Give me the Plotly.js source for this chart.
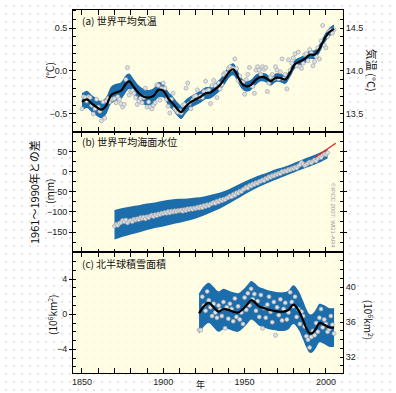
<!DOCTYPE html>
<html><head><meta charset="utf-8">
<script src="https://cdn.plot.ly/plotly-3.0.1.min.js"></script>
<style>
html,body{margin:0;padding:0;}
body{width:396px;height:393px;background-color:#fff;background-image:radial-gradient(circle,#cfcfcf 0.55px,rgba(255,255,255,0) 0.9px);background-size:8px 8px;background-position:2px 2px;}
#chart{width:396px;height:393px;}
</style></head><body>
<div id="chart"></div>
<script>
// ---------- (a) global mean temperature (anomaly vs 1961-1990, °C) ----------
const tempYears = [];
for (let y = 1850; y <= 2005; y++) tempYears.push(y);
const tempAnnual = [-0.44,-0.30,-0.31,-0.35,-0.30,-0.31,-0.40,-0.50,-0.44,-0.33,
 -0.42,-0.47,-0.58,-0.36,-0.55,-0.35,-0.32,-0.36,-0.33,-0.33,
 -0.32,-0.37,-0.30,-0.33,-0.38,-0.42,-0.39,-0.10,0.04,-0.28,
 -0.24,-0.23,-0.26,-0.31,-0.39,-0.35,-0.32,-0.37,-0.31,-0.20,
 -0.42,-0.36,-0.42,-0.44,-0.40,-0.37,-0.16,-0.17,-0.34,-0.20,
 -0.14,-0.20,-0.33,-0.41,-0.49,-0.33,-0.26,-0.44,-0.46,-0.48,
 -0.46,-0.49,-0.40,-0.39,-0.20,-0.14,-0.38,-0.44,-0.34,-0.30,
 -0.29,-0.22,-0.31,-0.29,-0.31,-0.24,-0.12,-0.23,-0.22,-0.38,
 -0.17,-0.11,-0.17,-0.31,-0.14,-0.21,-0.16,-0.04,-0.02,-0.03,
 0.03,0.05,0.02,0.03,0.14,0.03,-0.11,-0.06,-0.13,-0.13,
 -0.27,-0.10,-0.04,0.04,-0.17,-0.18,-0.26,0.01,0.05,0.01,
 -0.04,0.05,0.02,0.04,-0.24,-0.14,-0.07,-0.04,-0.09,0.05,
 0.01,-0.09,-0.01,0.14,-0.09,-0.04,-0.21,0.13,0.01,0.09,
 0.15,0.20,0.06,0.22,0.05,0.03,0.09,0.19,0.20,0.12,
 0.25,0.21,0.06,0.11,0.17,0.27,0.14,0.35,0.53,0.30,
 0.27,0.40,0.46,0.47,0.44,0.48];
const tempSmoothYears = [1850,1853,1856,1859,1862,1865,1868,1871,1874,1877,
 1879,1882,1885,1888,1891,1894,1897,1900,1903,1906,
 1909,1911,1914,1917,1920,1923,1926,1929,1932,1935,
 1938,1941,1943,1945,1948,1951,1954,1957,1960,1963,
 1966,1969,1972,1975,1978,1981,1984,1987,1990,1993,
 1996,1999,2002,2005];
const tempSmooth = [-0.36,-0.33,-0.38,-0.42,-0.45,-0.40,-0.28,-0.25,-0.23,-0.15,
 -0.12,-0.19,-0.26,-0.30,-0.31,-0.29,-0.22,-0.23,-0.32,-0.38,
 -0.45,-0.48,-0.41,-0.36,-0.33,-0.30,-0.26,-0.25,-0.21,-0.16,
 -0.08,0.00,0.02,-0.03,-0.14,-0.18,-0.16,-0.10,-0.07,-0.08,
 -0.12,-0.08,-0.08,-0.10,-0.02,0.08,0.11,0.14,0.19,0.19,
 0.26,0.37,0.45,0.49];
const tempBandHalf = [0.10,0.10,0.10,0.10,0.10,0.10,0.10,0.10,0.10,0.10,
 0.09,0.09,0.09,0.09,0.09,0.09,0.09,0.08,0.08,0.08,
 0.08,0.08,0.08,0.07,0.07,0.07,0.07,0.07,0.07,0.07,
 0.07,0.07,0.07,0.07,0.06,0.06,0.06,0.06,0.05,0.05,
 0.05,0.05,0.05,0.05,0.05,0.05,0.05,0.05,0.05,0.05,
 0.05,0.05,0.05,0.05];

// ---------- (b) global mean sea level (mm vs 1961-1990) ----------
const seaYears = [];
for (let y = 1870; y <= 2001; y++) seaYears.push(y);
const seaAnnual = [-135,-131,-133,-128,-126,-121,-124,-120,-127,-123,
 -121,-124,-118,-120,-117,-119,-114,-116,-113,-117,
 -112,-114,-110,-108,-111,-107,-109,-105,-106,-103,
 -104,-101,-103,-99,-102,-98,-100,-97,-99,-96,
 -97,-95,-98,-94,-96,-92,-94,-91,-93,-90,
 -91,-88,-90,-86,-89,-84,-86,-82,-84,-80,
 -79,-76,-78,-73,-75,-70,-72,-68,-69,-65,
 -64,-60,-62,-56,-58,-52,-53,-48,-49,-44,
 -42,-38,-40,-34,-35,-30,-31,-27,-28,-24,
 -23,-20,-21,-16,-17,-12,-13,-9,-10,-6,
 -6,-3,-4,1,0,3,2,6,5,9,
 8,12,10,15,18,24,20,16,19,22,
 25,23,27,30,28,34,38,36,42,45,
 44,48];
const seaSmoothYears = [1870,1875,1880,1885,1890,1895,1900,1905,1910,1915,1920,1925,1930,1935,1940,1945,1950,1955,1960,1965,1970,1975,1980,1985,1990,1995,2001];
const seaSmooth = [-132,-126,-121,-117,-112,-108,-104,-100,-97,-94,-90,-85,-78,-71,-62,-51,-40,-30,-21,-13,-5,2,10,18,26,34,46];
const seaBandHalf = [37,36,35,34,33,32,32,31,30,28,26,24,22,20,18,17,16,15,14,13,13,12,12,12,12,12,12];
const satYears = [1993.5, 2006];
const satLevel = [37, 72];

// ---------- (c) Northern Hemisphere snow cover (10^6 km² anomaly) ----------
const snowYears = [];
for (let y = 1922; y <= 2005; y++) snowYears.push(y);
const snowAnnual = [-1.8,-1.8,2.0,1.0,0.4,2.6,1.6,0.8,-0.2,1.2,
 0.2,-0.4,1.0,0.5,-0.2,1.4,-1.6,0.8,-0.5,1.2,
 0.6,-0.8,1.8,-0.3,0.9,-0.6,0.2,-1.1,1.9,0.5,
 2.4,1.0,2.9,1.7,2.3,0.4,1.5,-0.3,2.2,-1.6,
 0.7,-0.4,1.1,2.0,0.3,-0.9,1.4,-2.4,0.8,-0.1,
 1.7,-0.7,0.6,1.3,-0.6,0.2,2.5,1.4,0.9,2.0,
 -0.3,0.6,-1.1,0.3,-0.2,-1.4,-2.5,-2.9,-3.8,-2.6,
 -1.9,-2.4,-1.0,-2.0,-0.4,0.6,-1.5,-0.6,-1.1,-2.0,
 -1.7,-0.2,-1.2,-2.2];
const snowSmoothYears = [1922,1925,1928,1931,1934,1937,1940,1943,1946,1949,1952,1954,1956,1959,1962,1965,1968,1971,1974,1977,1980,1983,1986,1988,1990,1992,1994,1996,1998,2000,2002,2005];
const snowSmooth = [0.1,0.9,1.3,0.8,0.3,0.6,0.5,0.3,0.2,0.6,1.2,1.6,1.4,0.9,0.7,0.5,0.4,0.3,0.3,0.5,1.1,0.5,-0.7,-1.6,-2.2,-2.1,-1.6,-1.0,-1.1,-1.3,-1.5,-1.5];
const snowBandHalf = [2.3,2.3,2.3,2.3,2.3,2.3,2.2,2.2,2.2,2.2,2.2,2.2,2.2,2.2,2.2,2.2,2.2,2.2,2.2,2.2,2.2,2.2,2.2,2.2,2.2,2.2,2.2,2.2,2.2,2.2,2.2,2.2];

// ---------- styling ----------
const BAND = '#1c6dab';
const PT_FILL = '#dde3ea';
const PT_LINE = '#a3a3a3';
const TICKFONT = {family: 'Liberation Sans, Arial, sans-serif', size: 9, color: '#222'};
const CJK = 'Noto Sans CJK JP, sans-serif';

function band(xs, mid, half, xa, ya) {
  const lo = mid.map((v, i) => v - half[i]);
  const hi = mid.map((v, i) => v + half[i]);
  return [
    {x: xs, y: lo, xaxis: xa, yaxis: ya, mode: 'lines', line: {width: 0, shape: 'spline', color: BAND}, hoverinfo: 'skip', showlegend: false},
    {x: xs, y: hi, xaxis: xa, yaxis: ya, mode: 'lines', fill: 'tonexty', fillcolor: BAND, line: {width: 0, shape: 'spline', color: BAND}, hoverinfo: 'skip', showlegend: false}
  ];
}
function pts(xs, ys, xa, ya) {
  return {x: xs, y: ys, xaxis: xa, yaxis: ya, mode: 'markers', marker: {symbol: 'circle', size: 4, color: PT_FILL, line: {color: PT_LINE, width: 0.7}}, showlegend: false};
}
function smooth(xs, ys, xa, ya, w) {
  return {x: xs, y: ys, xaxis: xa, yaxis: ya, mode: 'lines', line: {color: '#000', width: w, shape: 'spline'}, showlegend: false};
}

const traces = [
  ...band(tempSmoothYears, tempSmooth, tempBandHalf, 'x2', 'y'),
  pts(tempYears, tempAnnual, 'x2', 'y'),
  smooth(tempSmoothYears, tempSmooth, 'x2', 'y', 2.2),
  ...band(seaSmoothYears, seaSmooth, seaBandHalf, 'x3', 'y2'),
  smooth(seaSmoothYears, seaSmooth, 'x3', 'y2', 1.5),
  pts(seaYears, seaAnnual, 'x3', 'y2'),
  {x: satYears, y: satLevel, xaxis: 'x3', yaxis: 'y2', mode: 'lines', line: {color: '#e8231e', width: 1.3}, showlegend: false},
  ...band(snowSmoothYears, snowSmooth, snowBandHalf, 'x', 'y3'),
  pts(snowYears, snowAnnual, 'x', 'y3'),
  smooth(snowSmoothYears, snowSmooth, 'x', 'y3', 2.2),
  {x: [], y: [], xaxis: 'x2', yaxis: 'y4', mode: 'lines', showlegend: false},
  {x: [], y: [], xaxis: 'x', yaxis: 'y5', mode: 'lines', showlegend: false}
];

const XR = [1844.5, 2010.5];
const xCommon = {range: XR, showline: true, linecolor: '#000', linewidth: 1, mirror: 'allticks',
  ticks: 'inside', ticklen: 5, tickcolor: '#000', tickvals: [1850, 1900, 1950, 2000],
  minor: {dtick: 10, tick0: 1850, ticks: 'inside', ticklen: 3, tickcolor: '#000'},
  showgrid: false, zeroline: false, tickfont: TICKFONT, fixedrange: true};
const yCommon = {showline: true, linecolor: '#000', linewidth: 1, ticks: 'outside', ticklen: 3, tickcolor: '#000',
  showgrid: false, zeroline: false, tickfont: TICKFONT, fixedrange: true};

const D_A = [0.664, 1], D_B = [0.3333, 0.664], D_C = [0, 0.3333];

function ann(text, x, y, angle, size, extra) {
  return Object.assign({text: text, xref: 'paper', yref: 'paper', x: x, y: y, xanchor: 'center', yanchor: 'middle',
    textangle: angle, showarrow: false, font: {family: CJK, size: size, color: '#111'}}, extra || {});
}

const layout = {
  width: 396, height: 393,
  margin: {l: 73, r: 53, t: 10, b: 20},
  paper_bgcolor: 'rgba(0,0,0,0)',
  plot_bgcolor: 'rgba(255,252,215,0.7)',
  showlegend: false,
  xaxis: Object.assign({}, xCommon, {anchor: 'y3', showticklabels: true}),
  xaxis2: Object.assign({}, xCommon, {anchor: 'y', matches: 'x', showticklabels: false}),
  xaxis3: Object.assign({}, xCommon, {anchor: 'y2', matches: 'x', showticklabels: false}),
  yaxis: Object.assign({}, yCommon, {domain: D_A, anchor: 'x2', range: [-0.71, 0.71], mirror: true,
    tickvals: [-0.5, 0, 0.5], tickformat: '.1f',
    minor: {dtick: 0.1, tick0: 0, ticks: 'inside', ticklen: 3, tickcolor: '#000'}}),
  yaxis4: Object.assign({}, yCommon, {overlaying: 'y', anchor: 'x2', side: 'right', range: [13.29, 14.71],
    tickvals: [13.5, 14.0, 14.5], tickformat: '.1f', ticks: 'inside',
    minor: {dtick: 0.1, tick0: 13, ticks: 'inside', ticklen: 3, tickcolor: '#000'}}),
  yaxis2: Object.assign({}, yCommon, {domain: D_B, anchor: 'x3', range: [-200, 100], mirror: 'allticks',
    tickvals: [-150, -100, -50, 0, 50],
    minor: {dtick: 25, tick0: 0, ticks: 'inside', ticklen: 3, tickcolor: '#000'}}),
  yaxis3: Object.assign({}, yCommon, {domain: D_C, anchor: 'x', range: [-6.7, 7.1], mirror: true,
    tickvals: [-4, 0, 4],
    minor: {dtick: 1, tick0: 0, ticks: 'inside', ticklen: 3, tickcolor: '#000'}}),
  yaxis5: Object.assign({}, yCommon, {overlaying: 'y3', anchor: 'x', side: 'right', range: [30.2, 44.0],
    tickvals: [32, 36, 40], ticks: 'inside',
    minor: {dtick: 1, tick0: 30, ticks: 'inside', ticklen: 3, tickcolor: '#000'}}),
  annotations: [
    ann('(a) 世界平均気温', 0.026, 0.972, 0, 10, {xanchor: 'left'}),
    ann('(b) 世界平均海面水位', 0.026, 0.637, 0, 10, {xanchor: 'left'}),
    ann('(c) 北半球積雪面積', 0.026, 0.303, 0, 10, {xanchor: 'left'}),
    ann('(°C)', -0.085, 0.832, -90, 10),
    ann('気温 (°C)', 1.108, 0.835, 90, 11),
    ann('1961～1990年との差', -0.144, 0.499, -90, 11),
    ann('(mm)', -0.085, 0.499, -90, 10),
    ann('(10<sup>6</sup>km<sup>2</sup>)', -0.074, 0.16, -90, 10),
    ann('(10<sup>6</sup>km<sup>2</sup>)', 1.097, 0.146, 90, 10),
    ann('年', 0.474, -0.031, 0, 9),
    ann('©IPCC 2007: WG1-AR4', 0.963, 0.435, 90, 6, {font: {family: 'Liberation Sans, Arial, sans-serif', size: 6, color: '#9a9a9a'}})
  ]
};

Plotly.newPlot('chart', traces, layout, {staticPlot: true, displayModeBar: false});
</script>
</body></html>
